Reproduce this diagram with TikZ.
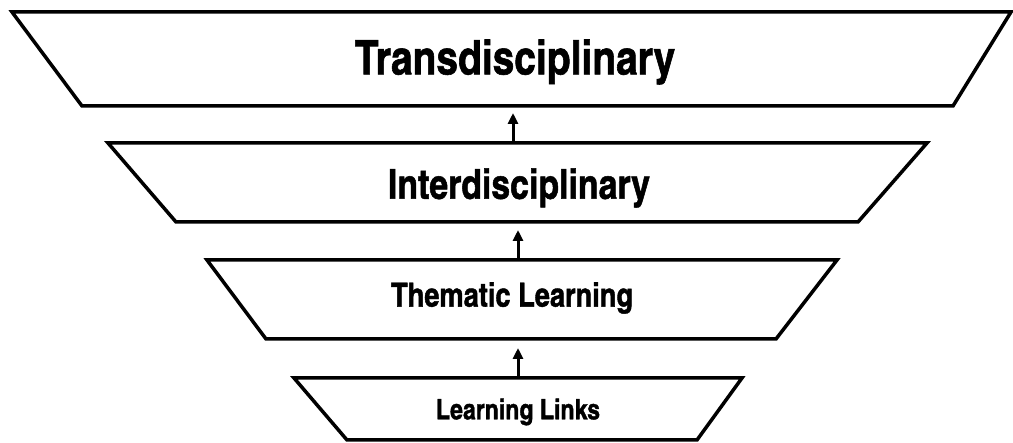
\documentclass[tikz,border=0pt]{standalone}
\usepackage{fontspec}
\setmainfont{TeX Gyre Heros Cn}[BoldFeatures={FakeBold=1.2}]
\usetikzlibrary{arrows.meta}

\tikzset{
  level/.style={draw=black, line width=3.5pt, line join=miter},
  lvltext/.style={font=\bfseries, inner sep=0pt},
  up/.style={-{Triangle[length=11pt,width=10pt]}, line width=3pt}
}

\begin{document}
\begin{tikzpicture}[x=1pt,y=-1pt]
  \useasboundingbox (0,0) rectangle (1013,443);

  % the four levels, widest on top
  \draw[level] (12,12) -- (1011,12) -- (953,106) -- (82,106) -- cycle;
  \draw[level] (108,143) -- (927,143) -- (858,222) -- (176,222) -- cycle;
  \draw[level] (207,260) -- (837,260) -- (776,339) -- (266,339) -- cycle;
  \draw[level] (294,378) -- (742,378) -- (697,440) -- (347,440) -- cycle;

  \node[lvltext, font=\bfseries\fontsize{47.5}{50}\selectfont] (trans) at (515,62) {Transdisciplinary};
  \node[lvltext, font=\bfseries\fontsize{41.3}{43}\selectfont] (inter) at (519,188) {Interdisciplinary};
  \node[lvltext, font=\bfseries\fontsize{33.2}{35}\selectfont] (them) at (512,298) {Thematic Learning};
  \node[lvltext, font=\bfseries\fontsize{28.2}{30}\selectfont] (links) at (518,412) {Learning Links};

  % arrows between the levels
  \coordinate (t1) at (513,113);
  \coordinate (b2) at (513,143);
  \coordinate (t2) at (518,230);
  \coordinate (b3) at (518,260);
  \coordinate (t3) at (518,348);
  \coordinate (b4) at (518,378);
  \draw[up] (b2) -- (t1);
  \draw[up] (b3) -- (t2);
  \draw[up] (b4) -- (t3);
\end{tikzpicture}
\end{document}
